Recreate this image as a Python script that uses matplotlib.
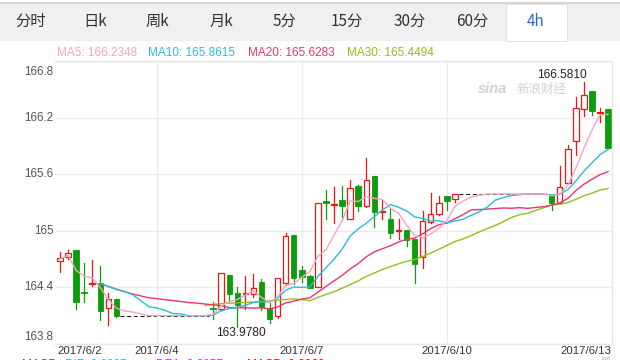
import numpy as np
import matplotlib
matplotlib.use('Agg')
import matplotlib.pyplot as plt
from matplotlib.patches import Rectangle
import matplotlib.transforms as mtransforms

W, H = 620, 360

# ---------------- data ----------------
tabs = ["分时", "日k", "周k", "月k", "5分", "15分", "30分", "60分", "4h"]
active_tab = "4h"

ma_names = ["MA5", "MA10", "MA20", "MA30"]
ma_last = ["166.2348", "165.8615", "165.6283", "165.4494"]

dates = ["2017/6/2", "2017/6/4", "2017/6/7", "2017/6/10", "2017/6/13"]
date_slots = [0, 12, 30, 48, 66]

y_ticks = [163.8, 164.4, 165.0, 165.6, 166.2, 166.8]
y_tick_labels = ["163.8", "164.4", "165", "165.6", "166.2", "166.8"]

high_label = "166.5810"
low_label = "163.9780"

macd_texts = ["MACD", "DIF: 0.0987", "DEA: 0.0957", "MACD: 0.0060"]

opens = [164.68, 164.72, 164.80, 164.35, 164.44, 164.45, 164.18, 164.28,
         164.10, 164.10, 164.10, 164.10, 164.10, 164.10, 164.10, 164.10, 164.10, 164.10, 164.10,
         164.18, 164.17, 164.53, 164.34, 164.33, 164.33, 164.46, 164.18, 164.10, 164.45,
         164.96, 164.58, 164.52, 164.40, 165.32, 165.275, 165.33, 165.12, 165.47, 165.265,
         165.58, 165.20, 165.12, 165.00, 165.01, 164.91, 164.72, 165.09, 165.18, 165.37, 165.335,
         165.39, 165.39, 165.39, 165.39, 165.39, 165.39, 165.39, 165.39, 165.39, 165.39, 165.39,
         165.39, 165.30, 165.51, 165.95, 166.29, 166.48, 166.25, 166.29]
highs = [164.78, 164.80, 164.80, 164.66, 164.69, 164.63, 164.34, 164.28,
         164.10, 164.10, 164.10, 164.10, 164.10, 164.10, 164.10, 164.10, 164.10, 164.10, 164.10,
         164.25, 164.55, 164.53, 164.40, 164.52, 164.54, 164.49, 164.23, 164.50, 164.98,
         164.96, 164.63, 164.53, 165.30, 165.43, 165.46, 165.48, 165.54, 165.49, 165.77,
         165.58, 165.325, 165.23, 165.12, 165.01, 164.91, 165.21, 165.40, 165.37, 165.37, 165.39,
         165.39, 165.39, 165.39, 165.39, 165.39, 165.39, 165.39, 165.39, 165.39, 165.39, 165.39,
         165.39, 165.685, 165.91, 166.42, 166.581, 166.48, 166.30, 166.29]
lows = [164.56, 164.70, 164.17, 164.24, 164.41, 164.05, 164.00, 164.09,
        164.10, 164.10, 164.10, 164.10, 164.10, 164.10, 164.10, 164.10, 164.10, 164.10, 164.10,
        164.07, 164.16, 164.27, 163.978, 164.17, 164.30, 164.16, 164.02, 164.08, 164.43,
        164.44, 164.46, 164.39, 164.40, 165.12, 165.08, 165.12, 165.12, 165.21, 165.25,
        165.04, 165.12, 164.92, 164.91, 164.84, 164.45, 164.61, 165.08, 165.17, 165.22, 165.31,
        165.39, 165.39, 165.39, 165.39, 165.39, 165.39, 165.39, 165.39, 165.39, 165.39, 165.39,
        165.22, 165.29, 165.51, 165.80, 166.22, 166.23, 166.15, 165.88]
closes = [164.71, 164.76, 164.24, 164.34, 164.45, 164.15, 164.28, 164.10,
          164.10, 164.10, 164.10, 164.10, 164.10, 164.10, 164.10, 164.10, 164.10, 164.10, 164.10,
          164.17, 164.55, 164.33, 164.21, 164.345, 164.39, 164.19, 164.07, 164.50, 164.95,
          164.50, 164.51, 164.39, 165.30, 165.29, 165.285, 165.265, 165.45, 165.265, 165.54,
          165.20, 165.21, 164.98, 165.01, 164.90, 164.65, 165.10, 165.18, 165.30, 165.32, 165.39,
          165.39, 165.39, 165.39, 165.39, 165.39, 165.39, 165.39, 165.39, 165.39, 165.39, 165.39,
          165.30, 165.46, 165.87, 166.30, 166.44, 166.27, 166.26, 165.88]

ma5 = [164.70, 164.74, 164.58, 164.52, 164.50, 164.40, 164.27, 164.18, 164.15, 164.14,
       164.12, 164.10, 164.10, 164.10, 164.10, 164.10, 164.10, 164.10, 164.10, 164.114,
       164.204, 164.25, 164.272, 164.321, 164.365, 164.293, 164.241, 164.299, 164.42, 164.442,
       164.506, 164.57, 164.73, 164.798, 164.955, 165.106, 165.318, 165.311, 165.361, 165.344,
       165.333, 165.239, 165.188, 165.06, 164.95, 164.928, 164.968, 165.026, 165.11, 165.258,
       165.316, 165.358, 165.376, 165.39, 165.39, 165.39, 165.39, 165.39, 165.39, 165.39,
       165.39, 165.372, 165.384, 165.48, 165.664, 165.874, 166.068, 166.228, 166.235]
ma10 = [None, None, None, None, None, 164.44, 164.41, 164.38, 164.355, 164.323,
        164.262, 164.196, 164.182, 164.158, 164.123, 164.118, 164.10, 164.10, 164.10, 164.107,
        164.152, 164.175, 164.186, 164.21, 164.24, 164.249, 164.246, 164.286, 164.371, 164.404,
        164.40, 164.406, 164.515, 164.609, 164.699, 164.806, 164.944, 165.021, 165.08, 165.15,
        165.22, 165.279, 165.25, 165.211, 165.147, 165.131, 165.104, 165.107, 165.085, 165.104,
        165.122, 165.163, 165.201, 165.25, 165.324, 165.353, 165.374, 165.383, 165.39, 165.39,
        165.39, 165.381, 165.388, 165.436, 165.527, 165.632, 165.72, 165.807, 165.862]
ma20 = [None, None, None, None, None, 164.44, 164.41, 164.38, 164.355, 164.33,
        164.31, 164.29, 164.28, 164.27, 164.26, 164.25, 164.24, 164.233, 164.224, 164.215,
        164.207, 164.186, 164.184, 164.184, 164.181, 164.183, 164.173, 164.193, 164.235, 164.255,
        164.276, 164.29, 164.35, 164.41, 164.469, 164.527, 164.595, 164.653, 164.725, 164.777,
        164.81, 164.842, 164.882, 164.91, 164.923, 164.968, 165.024, 165.064, 165.082, 165.127,
        165.171, 165.221, 165.225, 165.23, 165.236, 165.242, 165.239, 165.245, 165.238, 165.247,
        165.256, 165.272, 165.295, 165.343, 165.426, 165.493, 165.547, 165.595, 165.628]
ma30 = [None, None, None, None, None, None, None, None, None, None,
        None, None, None, None, None, None, None, None, 164.21, 164.22,
        164.228, 164.233, 164.237, 164.241, 164.245, 164.25, 164.256, 164.265, 164.273, 164.278,
        164.271, 164.259, 164.294, 164.326, 164.354, 164.391, 164.43, 164.469, 164.517, 164.553,
        164.59, 164.62, 164.65, 164.677, 164.695, 164.728, 164.764, 164.804, 164.845, 164.886,
        164.914, 164.949, 164.988, 165.023, 165.057, 165.097, 165.141, 165.17, 165.185, 165.215,
        165.244, 165.274, 165.28, 165.299, 165.333, 165.372, 165.399, 165.432, 165.449]

# ---------------- style ----------------
RED = '#f01414'
GREEN = '#0c9c0c'
ma_colors = ['#f6a3bf', '#2dbbdd', '#e9356c', '#93bf1c']
GRID = '#ebebeb'
LATIN = ['Liberation Sans', 'DejaVu Sans']
CJK = ['Noto Sans CJK SC', 'DejaVu Sans']


def fx(x):
    return x / W


def fy(y):
    return 1 - y / H


fig = plt.figure(figsize=(W / 100, H / 100), dpi=100)
fig.patch.set_facecolor('white')

# tab bar
fig.patches.append(Rectangle((0, fy(41)), 1, 37 / H, transform=fig.transFigure,
                             facecolor='#f0f0f0', edgecolor='none', zorder=0))
fig.patches.append(Rectangle((0, fy(4)), 1, 2.5 / H, transform=fig.transFigure,
                             facecolor='#d4d4d4', edgecolor='none', zorder=0))
fig.patches.append(Rectangle((fx(506), fy(41)), 61 / W, 37 / H, transform=fig.transFigure,
                             facecolor='white', edgecolor='#e0e0e0', lw=0.7, zorder=1))
tab_x = [31, 95, 157, 221, 284, 347, 410, 472, 536]
for t, x in zip(tabs, tab_x):
    fig.text(fx(x), fy(21.5), t, ha='center', va='center', fontsize=11,
             family=CJK, color='#2a6bc4' if t == active_tab else '#333333', zorder=2)

# legend row
leg_x = [57, 148, 248, 347]
for n, v, c, x in zip(ma_names, ma_last, ma_colors, leg_x):
    fig.text(fx(x), fy(53), f"{n}: {v}", ha='left', va='center', fontsize=8.5,
             family=LATIN, color=c)

# main axes
ax = fig.add_axes([fx(55), fy(344), (611.7 - 55) / W, (344 - 61) / H])
n = len(closes)
xs = np.arange(n)
ax.set_xlim(-0.62, 68.45)
ax.set_ylim(163.8, 166.8)

ax.set_yticks(y_ticks)
ax.set_yticklabels([])
ax.set_xticks(date_slots[1:4])
ax.set_xticklabels([])
ax.tick_params(length=0)
ax.grid(True, color=GRID, lw=1.0, zorder=0)
ax.spines['left'].set_visible(False)
for s in ['top', 'right', 'bottom']:
    ax.spines[s].set_color('#e6e6e6')
    ax.spines[s].set_linewidth(1.0)

# y labels
ytr = mtransforms.blended_transform_factory(ax.transAxes, ax.transData)
for v, lab in zip(y_ticks, y_tick_labels):
    yy = v
    if v == y_ticks[-1]:
        yy = v - 0.113
    elif v == y_ticks[0]:
        yy = v + 0.078
    ax.text(-0.003, yy, lab, transform=ytr, ha='right', va='center', fontsize=8.4,
            family=LATIN, color='#555555', clip_on=False)

# x labels
xtr = mtransforms.blended_transform_factory(ax.transData, ax.transAxes)
ylab = -7.0 / 283
for i, (d, s) in enumerate(zip(dates, date_slots)):
    if i == 0:
        xpos, ha = -0.35, 'left'
    elif i == len(dates) - 1:
        xpos, ha = 68.4, 'right'
    else:
        xpos, ha = s, 'center'
    ax.text(xpos, ylab, d, transform=xtr, ha=ha, va='center', fontsize=8.2,
            family=LATIN, color='#333333', clip_on=False)

# candles
bw = 0.68
o = np.array(opens); h = np.array(highs); l = np.array(lows); c = np.array(closes)
flat = (o == h) & (l == c) & (o == c)
i = 0
while i < n:
    if flat[i]:
        j = i
        while j + 1 < n and flat[j + 1]:
            j += 1
        ax.plot([i - 0.5, j + 0.5], [c[i], c[i]], color='#111111', lw=0.75,
                linestyle=(0, (3.8, 2.6)), zorder=1)
        i = j + 1
    else:
        i += 1

for k in range(n):
    if flat[k]:
        continue
    up = c[k] >= o[k]
    top = max(o[k], c[k]); bot = min(o[k], c[k])
    bh = max(top - bot, 0.004)
    if up:
        ax.plot([xs[k], xs[k]], [top, h[k]], color=RED, lw=0.9, zorder=2)
        ax.plot([xs[k], xs[k]], [l[k], bot], color=RED, lw=0.9, zorder=2)
        ax.add_patch(Rectangle((xs[k] - bw / 2, bot), bw, bh, facecolor='white',
                               edgecolor=RED, lw=0.9, zorder=2.5))
    else:
        ax.plot([xs[k], xs[k]], [l[k], h[k]], color=GREEN, lw=0.9, zorder=2)
        ax.add_patch(Rectangle((xs[k] - bw / 2, bot), bw, bh, facecolor=GREEN,
                               edgecolor=GREEN, lw=0.6, zorder=2.5))

# moving averages
for arr, col in zip([ma30, ma20, ma10, ma5], ma_colors[::-1]):
    a = np.array([np.nan if v is None else v for v in arr], dtype=float)
    ax.plot(xs, a, color=col, lw=1.0, zorder=3, solid_joinstyle='round')

# annotations of extremes
k_hi = int(np.argmax(h)); k_lo = int(np.argmin(l))
ax.text(k_hi - 2.7, h[k_hi] + 0.07, high_label, ha='center', va='center', fontsize=8.6,
        family=LATIN, color='#222222', zorder=4)
ax.text(k_lo + 0.5, l[k_lo] - 0.063, low_label, ha='center', va='center', fontsize=8.6,
        family=LATIN, color='#222222', zorder=4, clip_on=False)

# watermark
fig.text(fx(478), fy(89), "sina", fontsize=10.5, style='italic', weight='bold',
         family=LATIN, color='#d2d2d2', ha='left', va='center')
fig.text(fx(516), fy(89), "新浪财经", fontsize=9, family=CJK, color='#d2d2d2',
         ha='left', va='center')

# partially visible MACD row below the chart
macd_x = [22, 65, 156, 247]
macd_c = ['#555555', '#1fb8e8', '#e22be2', '#e01010']
for t, x, col in zip(macd_texts, macd_x, macd_c):
    fig.text(fx(x), fy(364.5), t, ha='left', va='center', fontsize=8.5, family=LATIN, color=col)
fig.patches.append(Rectangle((fx(602), fy(360)), 8 / W, 3 / H, transform=fig.transFigure,
                             facecolor='#dddddd', edgecolor='none'))

fig.savefig('out.png', dpi=100)
